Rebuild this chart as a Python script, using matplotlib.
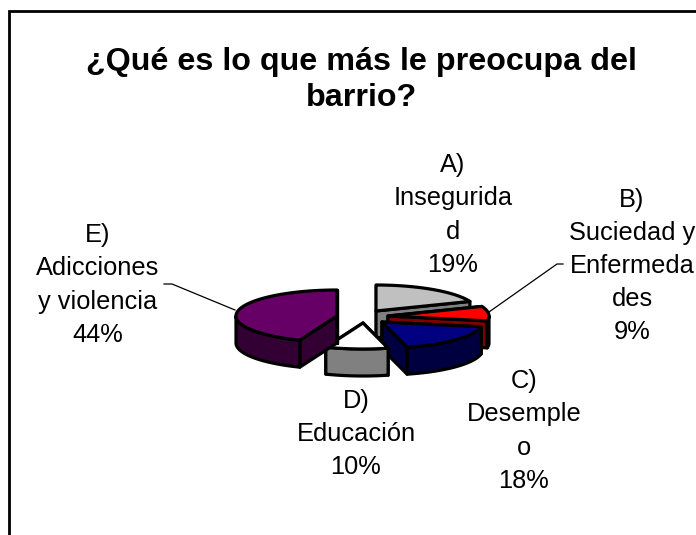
#Importing libraries
import numpy as np
import matplotlib
matplotlib.use('Agg')
import matplotlib.pyplot as plt
from matplotlib.patches import Polygon

plt.rcParams['font.family'] = ['Liberation Sans', 'DejaVu Sans']

#Data
title = '¿Qué es lo que más le preocupa del\nbarrio?'
labels = ['A)\nInsegurida\nd\n19%', 'B)\nSuciedad y\nEnfermeda\ndes\n9%',
          'C)\nDesemple\no\n18%', 'D)\nEducación\n10%',
          'E)\nAdicciones\ny violencia\n44%']
values = [19, 9, 18, 10, 44]
top_colors = ['#C0C0C0', '#FF0000', '#000080', '#FFFFFF', '#660066']
wall_colors = ['#808080', '#800000', '#000040', '#808080', '#330033']
label_pos = [(453, 215), (632, 266), (524, 431), (356, 434), (98, 285)]
#exploded centre of each slice, in pixels
centres = [(376, 311), (388, 316), (382, 322), (363, 323), (337, 316)]

W, H = 696, 535
RX, RY = 101, 26       #radii of the flattened pie
DEPTH = 27
EDGE = 2.3

fig = plt.figure(figsize=(W / 100, H / 100), dpi=100)
ax = fig.add_axes([0, 0, 1, 1])
ax.set_xlim(0, W)
ax.set_ylim(H, 0)
ax.axis('off')

#Frame (open at the bottom and right)
ax.plot([8.5, 8.5, W], [H, 11, 11], color='black', lw=2.0, solid_joinstyle='miter', zorder=1)

ax.text(361, 80, title, ha='center', va='center', fontsize=23.2, fontweight='bold',
        linespacing=1.22)

#Slices clockwise from 12 o'clock
fractions = np.array(values) / sum(values)
stops = np.concatenate([[0], np.cumsum(fractions)]) * 2 * np.pi


def point(a, cx, cy):
    return cx + RX * np.sin(a), cy - RY * np.cos(a)


z = 3
for i in range(len(values)):
    a0, a1 = stops[i], stops[i + 1]
    cx, cy = centres[i]
    aa = np.linspace(a0, a1, 80)
    px, py = point(aa, cx, cy)

    #walls: the two cut faces, then the front part of the rim, then the top
    for a in (a0, a1):
        ex, ey = point(a, cx, cy)
        wall = [(cx, cy), (ex, ey), (ex, ey + DEPTH), (cx, cy + DEPTH)]
        ax.add_patch(Polygon(wall, closed=True, fc=wall_colors[i], ec='black', lw=EDGE,
                             joinstyle='round', zorder=z))
    f0, f1 = max(a0, np.pi / 2), min(a1, 3 * np.pi / 2)
    if f1 > f0:
        fa = np.linspace(f0, f1, 80)
        fx, fy = point(fa, cx, cy)
        rim = list(zip(fx, fy)) + list(zip(fx[::-1], fy[::-1] + DEPTH))
        ax.add_patch(Polygon(rim, closed=True, fc=wall_colors[i], ec='black', lw=EDGE,
                             joinstyle='round', zorder=z))
    top = [(cx, cy)] + list(zip(px, py))
    ax.add_patch(Polygon(top, closed=True, fc=top_colors[i], ec='black', lw=EDGE,
                         joinstyle='round', zorder=z))
    z += 1

#Leader lines
ax.plot([164, 172, 235], [284, 284, 310], color='black', lw=0.9, zorder=2)
ax.plot([489, 557, 563], [312, 264, 264], color='black', lw=0.9, zorder=2)

for text, (x, y) in zip(labels, label_pos):
    ax.text(x, y, text, ha='center', va='center', fontsize=18.3, linespacing=1.48, clip_on=True)

fig.savefig('out.png', dpi=100)
